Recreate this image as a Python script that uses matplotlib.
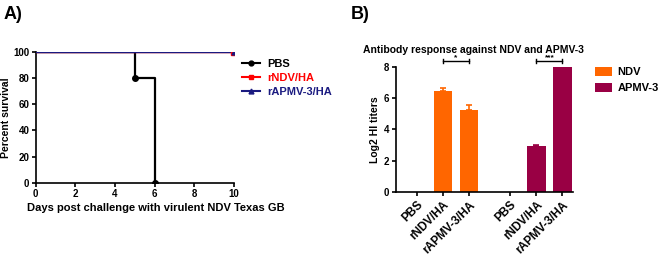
import numpy as np
import matplotlib.pyplot as plt

plt.rcParams['font.family'] = ['Liberation Sans', 'DejaVu Sans']
plt.rcParams['font.weight'] = 'bold'

# survival data (panel A)
days_pbs = [0, 5, 6]
surv_pbs = [100, 80, 0]
days_ndv = [0, 10]
surv_ndv = [100, 100]
days_apmv = [0, 10]
surv_apmv = [100, 100]

# HI titers (panel B)
groups = ["PBS", "rNDV/HA", "rAPMV-3/HA", "PBS", "rNDV/HA", "rAPMV-3/HA"]
ndv_titer = [0, 6.45, 5.23]
ndv_err = [0, 0.2, 0.35]
apmv_titer = [0, 2.95, 8.0]
apmv_err = [0, 0.06, 0.0]

orange = "#ff6600"
maroon = "#990044"
navy = "#1a1a80"

fig = plt.figure(figsize=(6.58, 2.58), dpi=100)

# ---- A) survival
ax1 = fig.add_axes([0.0543, 0.2907, 0.3013, 0.509])
ax1.step(days_pbs + [6], surv_pbs + [0], where="post", color="black", lw=1.6, zorder=3)
ax1.plot(days_pbs[1:], surv_pbs[1:], "o", color="black", ms=4, zorder=4)
ax1.plot(days_ndv, surv_ndv, color="red", lw=1, zorder=4)
ax1.plot(days_apmv, surv_apmv, color=navy, lw=1, zorder=5)
ax1.plot(days_ndv[-1:], surv_ndv[-1:], "s", color="red", ms=4, zorder=5)
ax1.plot(days_apmv[-1:], surv_apmv[-1:], "^", color=navy, ms=3.5, zorder=6)
ax1.set_xlim(0, 10)
ax1.set_ylim(0, 100)
ax1.set_xticks([0, 2, 4, 6, 8, 10])
ax1.set_yticks([0, 20, 40, 60, 80, 100])
ax1.spines[["top", "right"]].set_visible(False)
ax1.spines[["left", "bottom"]].set_linewidth(1.2)
ax1.tick_params(labelsize=7, width=1.2, length=3, pad=1.5)
ax1.set_xlabel("Days post challenge with virulent NDV Texas GB", fontsize=8, fontweight="bold")
ax1.xaxis.set_label_coords(0.607, -0.155)
ax1.set_ylabel("Percent survival", fontsize=7.5, fontweight="bold", labelpad=2)
for t in ax1.get_xticklabels() + ax1.get_yticklabels():
    t.set_fontweight("bold")

h1, = ax1.plot([], [], "o-", color="black", lw=1.5, ms=3.5)
h2, = ax1.plot([], [], "s-", color="red", lw=1.5, ms=3.5)
h3, = ax1.plot([], [], "^-", color=navy, lw=1.5, ms=3.5)
leg = ax1.legend([h1, h2, h3], ["PBS", "rNDV/HA", "rAPMV-3/HA"], loc="upper left",
                 bbox_to_anchor=(1.02, 0.98), frameon=False, fontsize=8,
                 handlelength=1.6, handletextpad=0.6, labelspacing=0.35, borderaxespad=0)
for txt, c in zip(leg.get_texts(), ["black", "red", navy]):
    txt.set_color(c)
    txt.set_fontweight("bold")
fig.text(0.006, 0.975, "A)", fontsize=13, fontweight="bold", va="top")

# ---- B) antibody titers
ax2 = fig.add_axes([0.6014, 0.2558, 0.269, 0.4857])
pos_ndv = np.array([0, 1, 2])
pos_apmv = np.array([3.6, 4.6, 5.6])
w = 0.72
ax2.bar(pos_ndv, ndv_titer, w, color=orange, label="NDV")
ax2.errorbar(pos_ndv[1:], ndv_titer[1:], yerr=[[0, 0], ndv_err[1:]], fmt="none",
             ecolor=orange, elinewidth=1.2, capsize=2.5, capthick=1.2)
ax2.bar(pos_apmv, apmv_titer, w, color=maroon, label="APMV-3")
ax2.errorbar(pos_apmv[1:], apmv_titer[1:], yerr=[[0, 0], apmv_err[1:]], fmt="none",
             ecolor=maroon, elinewidth=1.2, capsize=2.5, capthick=1.2)
ax2.set_xlim(-0.82, 6.0)
ax2.set_ylim(0, 8)
ax2.set_yticks([0, 2, 4, 6, 8])
ax2.set_xticks(np.concatenate([pos_ndv, pos_apmv]))
ax2.set_xticklabels(groups, rotation=45, ha="right", rotation_mode="anchor", fontsize=8.5, fontweight="bold")
ax2.spines[["top", "right"]].set_visible(False)
ax2.spines[["left", "bottom"]].set_linewidth(1.2)
ax2.tick_params(axis="y", labelsize=7, width=1.2, length=3, pad=1.5)
ax2.tick_params(axis="x", width=1.2, length=3, pad=2)
for t in ax2.get_yticklabels():
    t.set_fontweight("bold")
ax2.set_ylabel("Log2 HI titers", fontsize=7.5, fontweight="bold", labelpad=3)
ax2.set_title("Antibody response against NDV and APMV-3", fontsize=7.5, fontweight="bold",
              x=0.437, pad=10)

# significance brackets
for (a, b), star in [((pos_ndv[1], pos_ndv[2]), "*"), ((pos_apmv[1], pos_apmv[2]), "***")]:
    yb = 8.36
    ax2.plot([a, b], [yb, yb], color="black", lw=1, clip_on=False)
    ax2.plot([a, a], [yb - 0.12, yb + 0.12], color="black", lw=1, clip_on=False)
    ax2.plot([b, b], [yb - 0.12, yb + 0.12], color="black", lw=1, clip_on=False)
    ax2.text((a + b) / 2, yb + 0.02, star, ha="center", va="bottom", fontsize=6, fontweight="bold")

leg2 = ax2.legend(loc="upper left", bbox_to_anchor=(1.125, 1.0), frameon=False, fontsize=8,
                  handlelength=1.5, handleheight=0.9, handletextpad=0.55, labelspacing=0.5,
                  borderaxespad=0, borderpad=0)
for txt in leg2.get_texts():
    txt.set_fontweight("bold")
fig.text(0.533, 0.975, "B)", fontsize=13, fontweight="bold", va="top")

fig.savefig("out.png", dpi=100)
